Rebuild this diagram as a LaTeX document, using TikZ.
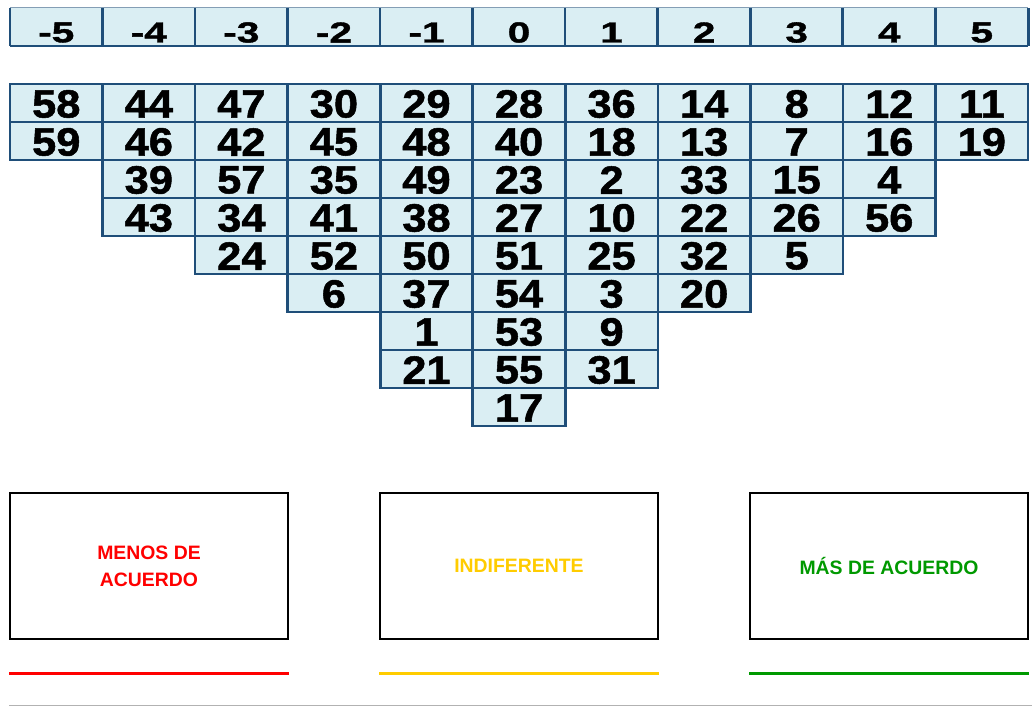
\documentclass[tikz,border=0pt]{standalone}
\usepackage{fontspec}
\setmainfont{Liberation Sans}
\newfontfamily\headfont[UprightFont={* Bold},FakeStretch=1.4,FakeBold=1.3]{Liberation Sans}
\newfontfamily\cellfont[UprightFont={* Bold},FakeStretch=1.1,FakeBold=1.3]{Liberation Sans}
\definecolor{gridblue}{HTML}{1F4E79}
\definecolor{cellblue}{HTML}{DAEEF3}
\definecolor{lessred}{HTML}{FF0000}
\definecolor{midgold}{HTML}{FFCC00}
\definecolor{moregreen}{HTML}{009900}
\begin{document}
\begin{tikzpicture}[x=1pt,y=-1pt,
  cell/.style={draw=gridblue, line width=2.6pt, fill=cellblue, minimum width=92.55pt, minimum height=38pt, inner sep=0pt},
  celltext/.style={inner sep=0pt, font=\cellfont\fontsize{39.5}{39.5}\selectfont, text=black},
  headcell/.style={fill=cellblue, minimum width=92.55pt, minimum height=38pt, inner sep=0pt},
  headtext/.style={inner sep=0pt, font=\headfont\fontsize{29}{29}\selectfont, text=black},
  catbox/.style={draw=black, line width=2pt, fill=white, minimum width=278pt, minimum height=146pt, inner sep=0pt, align=center, font=\fontsize{19.4}{27}\selectfont\bfseries},
  catline/.style={line width=3.8pt}
]
\useasboundingbox (0,0) rectangle (1032,706);
% header
\foreach \lab [count=\i from 0] in {-5,-4,-3,-2,-1,0,1,2,3,4,5} {
  \node[headcell] (h\i) at ({10+92.55*(\i+0.5)},27) {};
  \node[headtext] (ht\i) at ([yshift=-5.5pt]h\i.center) {\lab};
}
\draw[gridblue!55, line width=1pt] (h0.north west) -- (h10.north east);
\foreach \i in {0,...,10} {
  \draw[gridblue, line width=2.6pt] (h\i.north west) -- (h\i.south west);
}
\draw[gridblue, line width=2.6pt] (h10.north east) -- (h10.south east);
\draw[gridblue, line width=2.6pt] (h0.south west) -- (h10.south east);
% grid
\foreach \col/\vals in {0/{58,59},1/{44,46,39,43},2/{47,42,57,34,24},3/{30,45,35,41,52,6},4/{29,48,49,38,50,37,1,21},5/{28,40,23,27,51,54,53,55,17},6/{36,18,2,10,25,3,9,31},7/{14,13,33,22,32,20},8/{8,7,15,26,5},9/{12,16,4,56},10/{11,19}} {
  \foreach \v [count=\r from 0] in \vals {
    \node[cell] (c\col-\r) at ({10+92.55*(\col+0.5)},{103+38*\r}) {};
  }
}
\foreach \col/\vals in {0/{58,59},1/{44,46,39,43},2/{47,42,57,34,24},3/{30,45,35,41,52,6},4/{29,48,49,38,50,37,1,21},5/{28,40,23,27,51,54,53,55,17},6/{36,18,2,10,25,3,9,31},7/{14,13,33,22,32,20},8/{8,7,15,26,5},9/{12,16,4,56},10/{11,19}} {
  \foreach \v [count=\r from 0] in \vals {
    \node[celltext] (t\col-\r) at ([yshift=-1pt]c\col-\r.center) {\v};
  }
}
% category boxes
\node[catbox, text=lessred] (less) at (149,566) {MENOS DE\\ ACUERDO};
\node[catbox, text=midgold] (mid) at (519,566) {INDIFERENTE};
\node[catbox, text=moregreen] (more) at (889,566) {MÁS DE ACUERDO};
\draw[catline, lessred] ([yshift=-33.5pt]less.south west) -- ([yshift=-33.5pt]less.south east);
\draw[catline, midgold] ([yshift=-33.5pt]mid.south west) -- ([yshift=-33.5pt]mid.south east);
\draw[catline, moregreen] ([yshift=-33.5pt]more.south west) -- ([yshift=-33.5pt]more.south east);
\coordinate (gl) at (9,705.3);
\coordinate (gr) at (1032,705.3);
\draw[black!30, line width=1pt] (gl) -- (gr);
\end{tikzpicture}
\end{document}
